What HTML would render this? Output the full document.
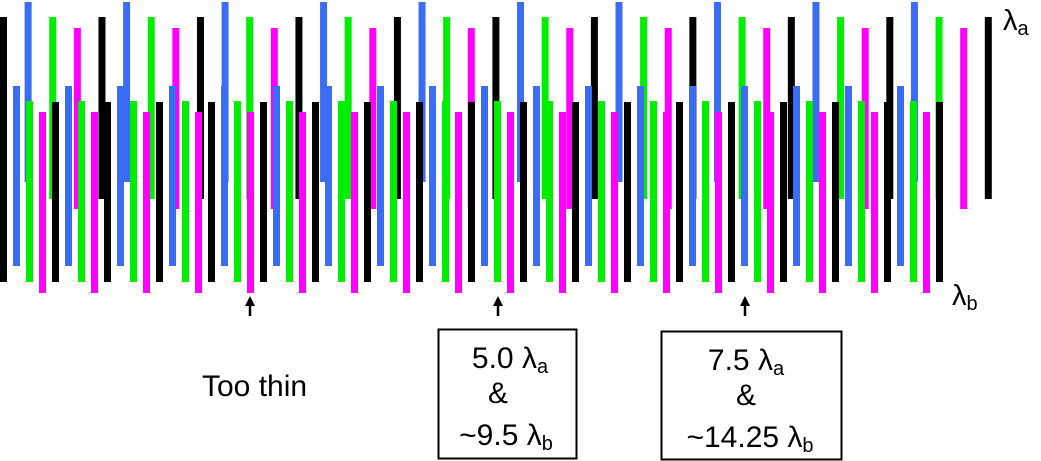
<!DOCTYPE html>
<html><head><meta charset="utf-8"><style>
body{margin:0;background:#fff;}
svg{display:block;font-family:"Liberation Sans",sans-serif;}
</style></head><body>
<svg id="c" width="1041" height="461" viewBox="0 0 1041 461">
<g id="topRow"></g>
<g id="botRow"></g>
<text x="1003" y="30" font-size="29">λ<tspan font-size="20" dy="5">a</tspan></text>
<text x="952" y="305" font-size="29">λ<tspan font-size="20" dy="5">b</tspan></text>
<g id="arrows"></g>
<text x="202" y="396" font-size="30">Too thin</text>
<g>
<rect x="438.5" y="329.5" width="138" height="129" fill="none" stroke="#000" stroke-width="2"/>
<text x="510" y="368" font-size="30" text-anchor="middle">5.0 λ<tspan font-size="20" dy="5">a</tspan></text>
<text x="498" y="403" font-size="30" text-anchor="middle">&amp;</text>
<text x="506" y="445" font-size="30" text-anchor="middle">~9.5 λ<tspan font-size="20" dy="5">b</tspan></text>
</g>
<g>
<rect x="661.5" y="331.5" width="180" height="128" fill="none" stroke="#000" stroke-width="2"/>
<text x="746" y="370" font-size="30" text-anchor="middle">7.5 λ<tspan font-size="20" dy="5">a</tspan></text>
<text x="746" y="405" font-size="30" text-anchor="middle">&amp;</text>
<text x="750" y="447" font-size="30" text-anchor="middle">~14.25 λ<tspan font-size="20" dy="5">b</tspan></text>
</g>
</svg>
<script>
const colors = ["#000000","#3a6cf4","#00ee00","#ff00ff"];
const colorNames = ["black","blue","green","magenta"];
const topCount = 41;
const topTops = [17,2,17,28];
const topBottoms = [199,182,199,209];
const botCount = 73;
const botTops = [102,86,101,112];
const botBottoms = [282,266,282,293];
const arrowX = [250,498,745];
const NS="http://www.w3.org/2000/svg";
const topStep = 24.62, botStep = 13.0, bw = 7;
function xTop(i){return i*topStep;}
function xBot(i){return i*botStep;}
const tg=document.getElementById('topRow');
for(let i=0;i<topCount;i++){
  const k=i%4, r=document.createElementNS(NS,'rect');
  r.setAttribute('x',xTop(i));r.setAttribute('y',topTops[k]);
  r.setAttribute('width',bw);r.setAttribute('height',topBottoms[k]-topTops[k]);
  r.setAttribute('fill',colors[k]);
  
  
  tg.appendChild(r);
}
const bg=document.getElementById('botRow');
for(let i=0;i<botCount;i++){
  const k=i%4, r=document.createElementNS(NS,'rect');
  r.setAttribute('x',xBot(i));r.setAttribute('y',botTops[k]);
  r.setAttribute('width',bw);r.setAttribute('height',botBottoms[k]-botTops[k]);
  r.setAttribute('fill',colors[k]);
  
  
  bg.appendChild(r);
}
const ag=document.getElementById('arrows');
arrowX.forEach(x=>{
  const g=document.createElementNS(NS,'g');
  
  
  const l=document.createElementNS(NS,'line');
  l.setAttribute('x1',x);l.setAttribute('x2',x);l.setAttribute('y1',303);l.setAttribute('y2',316);
  l.setAttribute('stroke','#000');l.setAttribute('stroke-width',2.5);
  const p=document.createElementNS(NS,'polygon');
  p.setAttribute('points',`${x-5},306 ${x+5},306 ${x},296`);
  g.appendChild(l);g.appendChild(p);ag.appendChild(g);
});
</script>
</body></html>
